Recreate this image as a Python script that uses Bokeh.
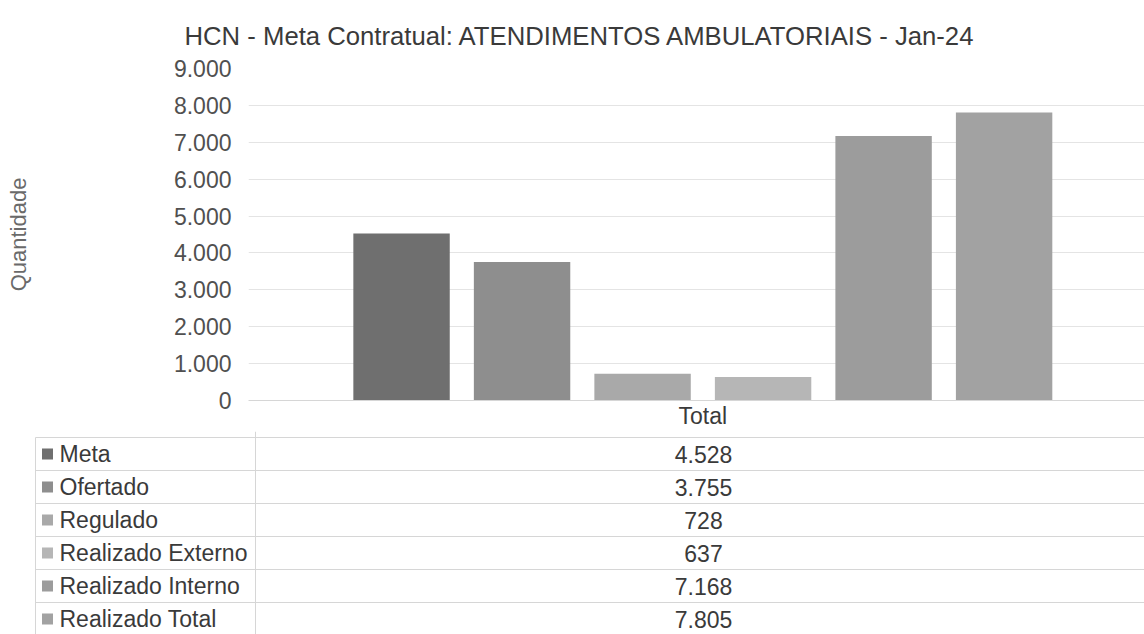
from bokeh.plotting import figure
from bokeh.models import Range1d, FixedTicker, ColumnDataSource
from bokeh.layouts import column
from bokeh.embed import file_html
from bokeh.resources import INLINE
from bokeh.core.properties import value

# ---------------- data ----------------
title_text = "HCN - Meta Contratual: ATENDIMENTOS AMBULATORIAIS - Jan-24"
y_axis_title = "Quantidade"
category = "Total"
series = ["Meta", "Ofertado", "Regulado", "Realizado Externo",
          "Realizado Interno", "Realizado Total"]
values = [4528, 3755, 728, 637, 7168, 7805]
y_ticks = [0, 1000, 2000, 3000, 4000, 5000, 6000, 7000, 8000, 9000]
y_tick_labels = ["0", "1.000", "2.000", "3.000", "4.000", "5.000",
                 "6.000", "7.000", "8.000", "9.000"]
colors = ["#6f6f6f", "#8e8e8e", "#a9a9a9", "#b6b6b6", "#9c9c9c", "#a2a2a2"]

# ---------------- style ----------------
FONT = "Liberation Sans"
W = 1144
HA = 431
HB = 203
TXT = "#3a3a3a"
LINE = "#d6d6d6"

def fmt(v):
    return f"{v:,}".replace(",", ".")

# ---------------- chart ----------------
xs = list(range(len(series)))
group_center = sum(xs) / len(xs)
src = ColumnDataSource(dict(x=xs, top=values, color=colors, name=series))

p = figure(width=W, height=HA, output_backend="svg", toolbar_location=None,
           x_range=Range1d(-1.27, 6.165), y_range=Range1d(0, 9000),
           min_border_left=248, min_border_right=0, min_border_top=66,
           min_border_bottom=28)
p.frame_align = False
p.outline_line_color = None
p.background_fill_color = "white"
p.border_fill_color = "white"

p.title.text = title_text
p.title.align = "left"
p.title.offset = -64
p.title.text_font = FONT
p.title.text_font_size = "25.7px"
p.title.text_font_style = "normal"
p.title.text_color = TXT
p.title.standoff = 38

p.yaxis.ticker = FixedTicker(ticks=y_ticks)
p.yaxis.major_label_overrides = {t: l for t, l in zip(y_ticks, y_tick_labels)}
p.yaxis.axis_line_color = None
p.yaxis.major_tick_line_color = None
p.yaxis.minor_tick_line_color = None
p.yaxis.major_tick_out = 0
p.yaxis.major_tick_in = 0
p.yaxis.major_label_standoff = 17
p.yaxis.major_label_text_font = FONT
p.yaxis.major_label_text_font_size = "23px"
p.yaxis.major_label_text_color = "#505050"
p.yaxis.axis_label = y_axis_title
p.yaxis.axis_label_standoff = 140
p.yaxis.axis_label_text_font = FONT
p.yaxis.axis_label_text_font_size = "22px"
p.yaxis.axis_label_text_font_style = "normal"
p.yaxis.axis_label_text_color = "#6a6a6a"

p.xaxis.ticker = FixedTicker(ticks=[group_center])
p.xaxis.major_label_overrides = {group_center: category}
p.xaxis.axis_line_color = LINE
p.xaxis.major_tick_line_color = None
p.xaxis.minor_tick_line_color = None
p.xaxis.major_tick_out = 0
p.xaxis.major_tick_in = 0
p.xaxis.major_label_standoff = 2
p.xaxis.major_label_text_font = FONT
p.xaxis.major_label_text_font_size = "23px"
p.xaxis.major_label_text_color = TXT

p.ygrid.ticker = FixedTicker(ticks=y_ticks)
p.ygrid.grid_line_color = "#e4e4e4"
p.ygrid.grid_line_width = 1
p.xgrid.visible = False

p.vbar(x="x", top="top", width=0.8, fill_color="color", line_color=None, source=src)

# ---------------- data table ----------------
t = figure(width=W, height=HB, output_backend="svg", toolbar_location=None,
           x_range=Range1d(0, W), y_range=Range1d(HB, 0),
           x_axis_type=None, y_axis_type=None, min_border=0)
t.frame_align = False
t.outline_line_color = None
t.grid.visible = False
t.background_fill_color = "white"
t.border_fill_color = "white"

top_gap = 6
row_h = 33
left_x = 35
div_x = 255
value_x = 703
n = len(series)

hy = [top_gap + row_h * i for i in range(n)]
t.segment(x0=[left_x] * n, x1=[W] * n, y0=hy, y1=hy, line_color=LINE, line_width=1)
t.segment(x0=[div_x], x1=[div_x], y0=[0], y1=[HB], line_color=LINE, line_width=1)
t.segment(x0=[left_x], x1=[left_x], y0=[top_gap], y1=[HB], line_color=LINE, line_width=1)

row_y = [top_gap + row_h * (i + 0.5) for i in range(n)]
tsrc = ColumnDataSource(dict(y=row_y, name=series, val=[fmt(v) for v in values], color=colors,
                             kx=[47] * n, tx=[59] * n, vx=[value_x] * n))

t.rect(x="kx", y="y", width=11, height=11, fill_color="color", line_color=None, source=tsrc)
t.text(x="tx", y="y", text="name", text_font=value(FONT), text_font_size="23px",
       text_color=TXT, text_align="left", text_baseline="middle", source=tsrc)
t.text(x="vx", y="y", text="val", text_font=value(FONT), text_font_size="23px",
       text_color=TXT, text_align="center", text_baseline="middle", source=tsrc)

layout = column(p, t, spacing=0)
open("out.html", "w").write(file_html(layout, INLINE))
